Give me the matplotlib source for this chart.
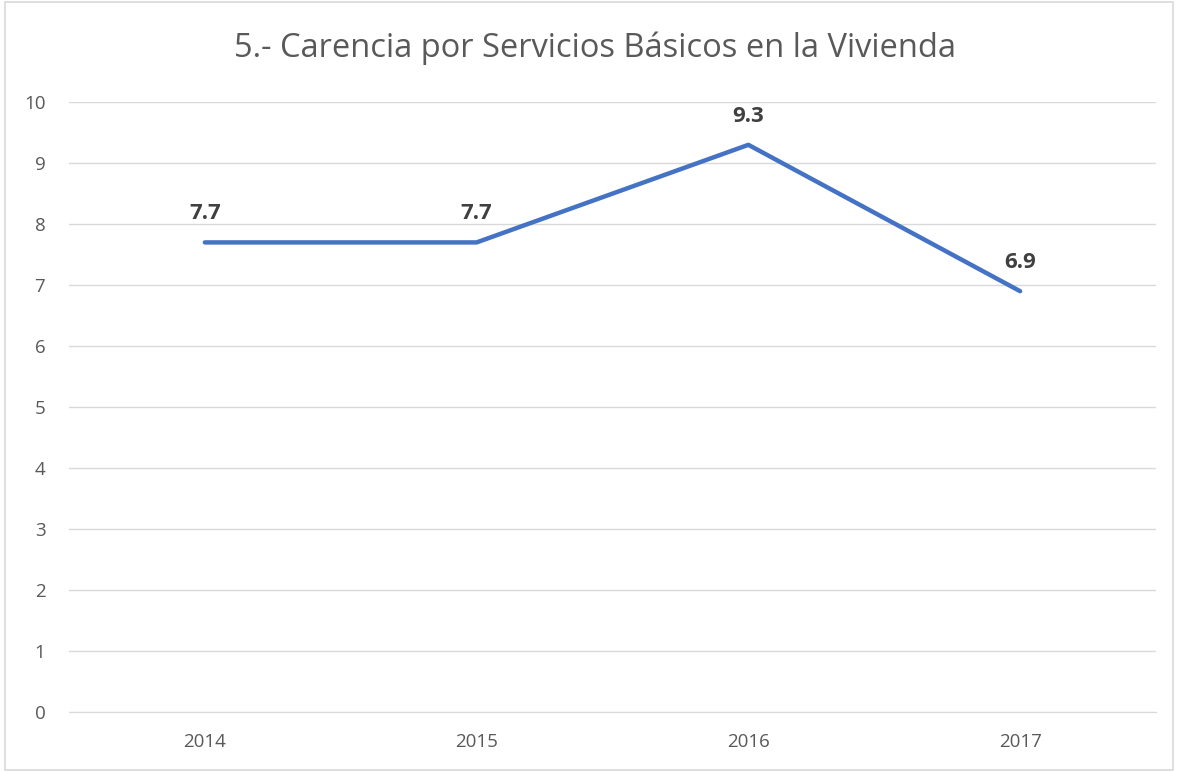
import matplotlib

matplotlib.use("Agg")
import matplotlib.pyplot as plt
from matplotlib.patches import Rectangle

years = ["2014", "2015", "2016", "2017"]
values = [7.7, 7.7, 9.3, 6.9]
y_ticks = list(range(0, 11))

TITLE = "5.- Carencia por Servicios Básicos en la Vivienda"
LINE_COLOR = "#4472C4"
GRID_COLOR = "#D9D9D9"
TICK_COLOR = "#595959"
LABEL_COLOR = "#404040"

plt.rcParams["font.family"] = ["Open Sans", "DejaVu Sans"]

fig = plt.figure(figsize=(11.79, 7.72), dpi=100)
ax = fig.add_axes([0.0585, 0.0777, 0.922, 0.790])

x = list(range(len(years)))
ax.plot(x, values, color=LINE_COLOR, linewidth=3.2, solid_capstyle="round", solid_joinstyle="round", zorder=3)

for xi, v in zip(x, values):
    ax.annotate(f"{v:.1f}", (xi, v), xytext=(0, 13), textcoords="offset points",
                ha="center", va="bottom", fontsize=16, fontweight="bold", color=LABEL_COLOR)

ax.set_xlim(-0.5, len(years) - 0.5)
ax.set_ylim(0, 10)
ax.set_xticks(x)
ax.set_xticklabels(years)
ax.set_yticks(y_ticks)
ax.tick_params(axis="both", length=0, labelsize=13.5, colors=TICK_COLOR)
ax.tick_params(axis="x", pad=15)
ax.tick_params(axis="y", pad=17)
ax.yaxis.grid(True, color=GRID_COLOR, linewidth=1)
ax.set_axisbelow(True)
for side in ["top", "right", "left"]:
    ax.spines[side].set_visible(False)
ax.spines["bottom"].set_color(GRID_COLOR)

fig.text(0.505, 0.937, TITLE, ha="center", va="center", fontsize=23.5, color=TICK_COLOR)
fig.patches.append(Rectangle((0.004, 0.002), 0.991, 0.996, transform=fig.transFigure,
                             fill=False, edgecolor=GRID_COLOR, linewidth=1.2))

fig.savefig("out.png", dpi=100)
